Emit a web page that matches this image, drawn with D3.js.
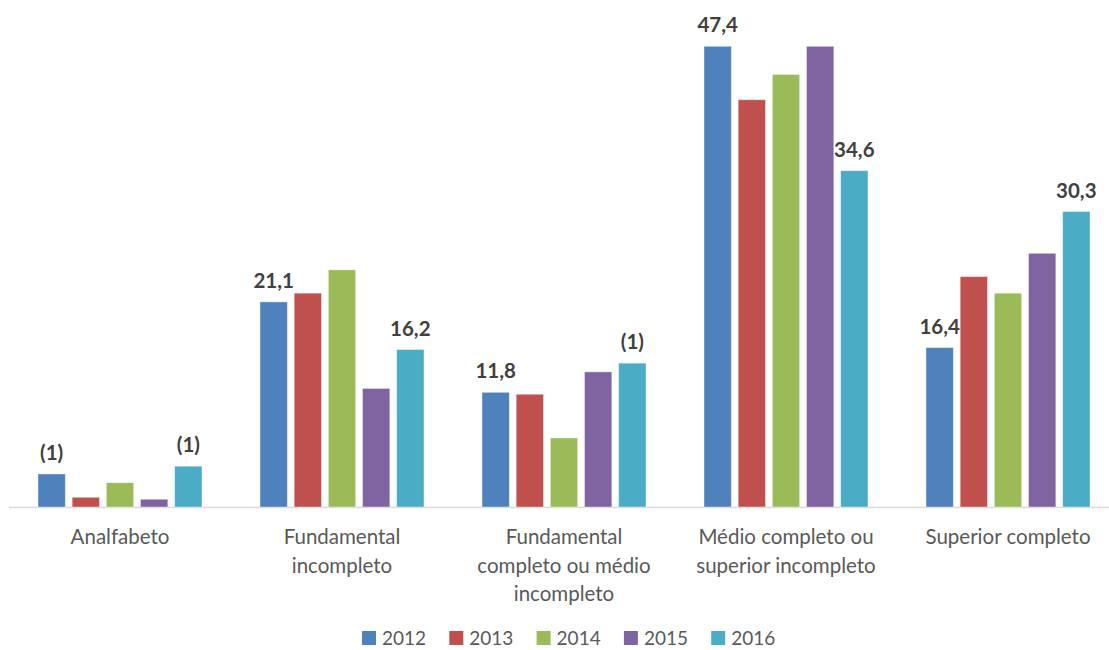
<!DOCTYPE html>
<html>
<head>
<meta charset="utf-8">
<script src="https://cdn.jsdelivr.net/npm/d3@7"></script>
<style>
  body { margin: 0; background: #fff; }
  text { font-family: Lato, "Open Sans", sans-serif; }
</style>
</head>
<body>
<svg id="chart" width="1109" height="650" viewBox="0 0 1109 650"></svg>
<script>
// categories (multi-line labels)
const categories = [
    ["Analfabeto"],
    ["Fundamental", "incompleto"],
    ["Fundamental", "completo ou médio", "incompleto"],
    ["Médio completo ou", "superior incompleto"],
    ["Superior completo"]
]
const years = ["2012", "2013", "2014", "2015", "2016"]

// values by year, one per category
const v2012 = [3.4, 21.1, 11.8, 47.4, 16.4]
const v2013 = [1.0, 22.0, 11.6, 41.9, 23.7]
const v2014 = [2.5, 24.4, 7.1, 44.5, 22.0]
const v2015 = [0.8, 12.2, 13.9, 47.4, 26.1]
const v2016 = [4.2, 16.2, 14.8, 34.6, 30.4]

// data labels (only 2012 and 2016 are shown)
const labels2012 = ["(1)", "21,1", "11,8", "47,4", "16,4"]
const labels2016 = ["(1)", "16,2", "(1)", "34,6", "30,3"]

const colors = ["#4F81BD", "#C0504D", "#9BBB59", "#8064A2", "#4BACC6"]

const series = [v2012, v2013, v2014, v2015, v2016]
const svg = d3.select("#chart")
const baseline = 507

const x0 = d3.scaleBand()
    .domain(d3.range(categories.length))
    .range([9, 1119])
    .paddingInner(0)
    .paddingOuter(0)

const groupWidth = 164
const x1 = d3.scaleBand()
    .domain(years)
    .range([0, groupWidth])
    .paddingInner(0.2)

const y = d3.scaleLinear()
    .domain([0, 50])
    .range([baseline, 21])

const color = d3.scaleOrdinal().domain(years).range(colors)

// axis line
svg.append("line")
    .attr("x1", 9).attr("x2", 1109)
    .attr("y1", baseline + 0.5).attr("y2", baseline + 0.5)
    .attr("stroke", "#d9d9d9")
    .attr("stroke-width", 1.5)

// bars
const rows = []
categories.forEach((c, i) => {
    years.forEach((yr, j) => {
        rows.push({cat: i, year: yr, value: series[j][i],
            label: j === 0 ? labels2012[i] : (j === 4 ? labels2016[i] : null)})
    })
})

const groupX = i => x0(i) + (x0.bandwidth() - groupWidth) / 2

svg.append("g")
    .selectAll("rect")
    .data(rows)
    .enter()
    .append("rect")
    .attr("x", d => groupX(d.cat) + x1(d.year))
    .attr("y", d => y(d.value))
    .attr("width", x1.bandwidth())
    .attr("height", d => baseline - y(d.value))
    .attr("fill", d => color(d.year))
    .attr("stroke", "#ffffff")
    .attr("stroke-opacity", 0.5)
    .attr("stroke-width", 0.8)

// data labels
svg.append("g")
    .selectAll("text")
    .data(rows.filter(d => d.label))
    .enter()
    .append("text")
    .attr("x", d => groupX(d.cat) + x1(d.year) + x1.bandwidth() / 2)
    .attr("y", d => y(d.value) - 14)
    .attr("text-anchor", "middle")
    .attr("font-size", 20.5)
    .attr("font-weight", "bold")
    .attr("fill", "#404040")
    .text(d => d.label)

// category labels
const catG = svg.append("g")
categories.forEach((lines, i) => {
    const t = catG.append("text")
        .attr("x", x0(i) + x0.bandwidth() / 2)
        .attr("y", 544)
        .attr("text-anchor", "middle")
        .attr("font-size", 20.5)
        .attr("fill", "#595959")
    lines.forEach((l, k) => {
        t.append("tspan")
            .attr("x", x0(i) + x0.bandwidth() / 2)
            .attr("dy", k === 0 ? 0 : 28.5)
            .text(l)
    })
})

// legend
const legend = svg.append("g")
    .selectAll("g")
    .data(years)
    .enter()
    .append("g")
    .attr("transform", (d, i) => `translate(${362 + i * 87.3}, 631)`)

legend.append("rect")
    .attr("width", 14).attr("height", 14)
    .attr("fill", d => color(d))

legend.append("text")
    .attr("x", 20)
    .attr("y", 14)
    .attr("font-size", 19)
    .attr("fill", "#595959")
    .text(d => d)
</script>
</body>
</html>
